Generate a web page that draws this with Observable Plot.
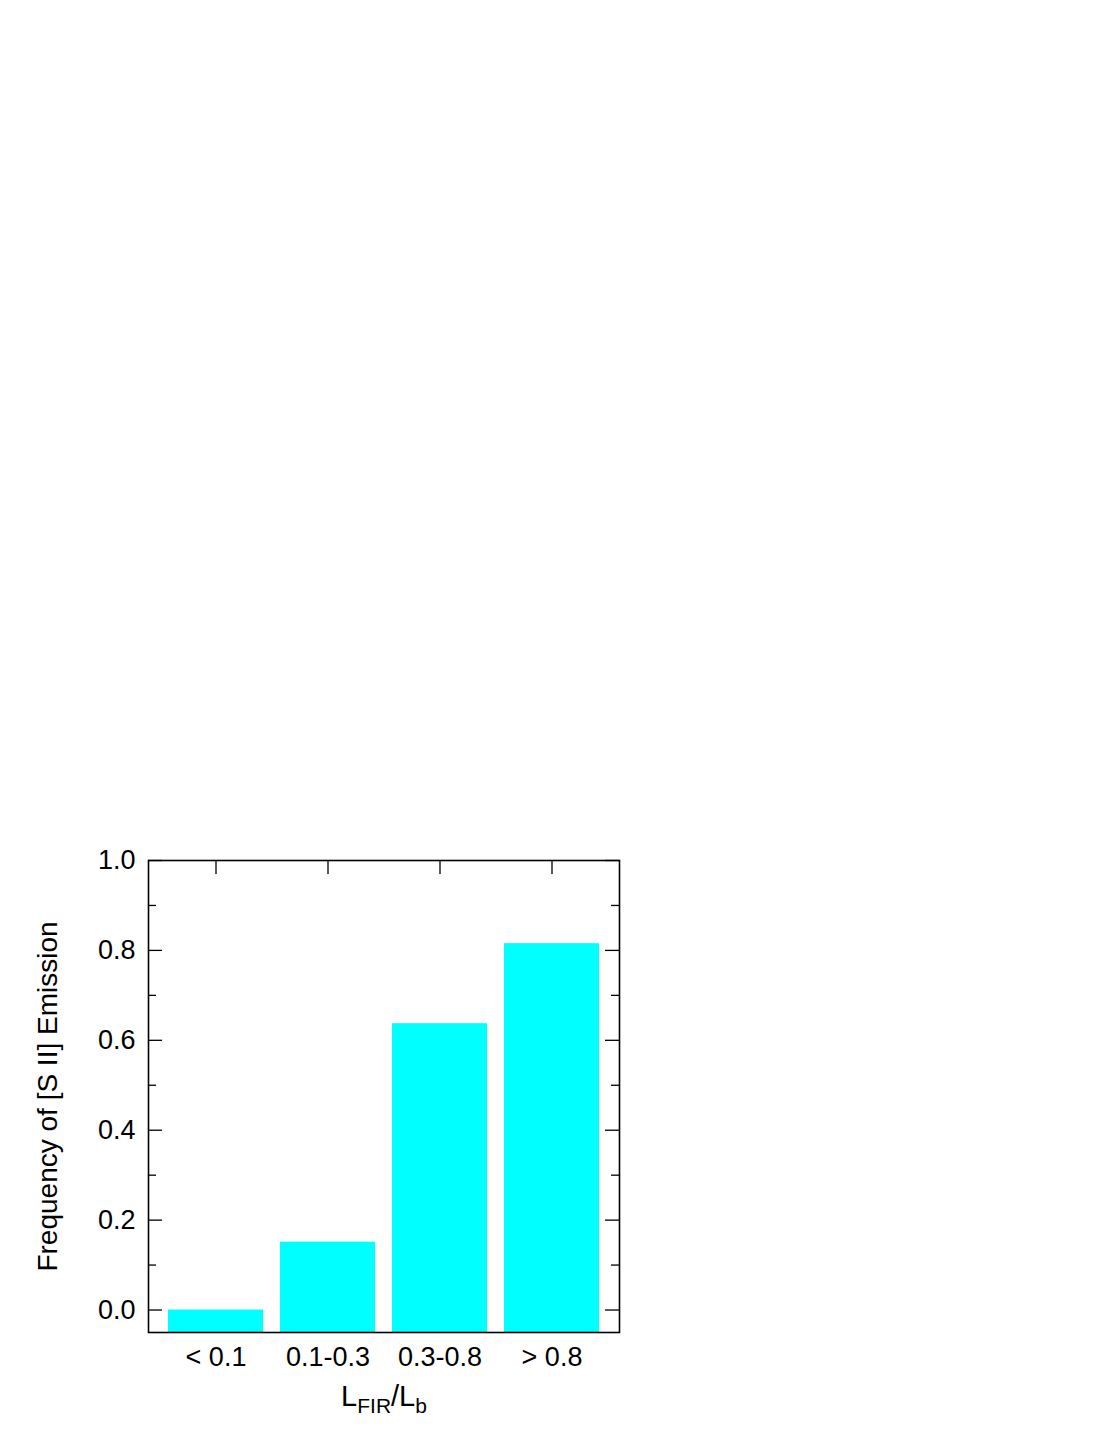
<!DOCTYPE html>
<html><head><meta charset="utf-8">
<script src="https://cdn.jsdelivr.net/npm/d3@7"></script>
<script src="https://cdn.jsdelivr.net/npm/@observablehq/plot@0.6"></script>
<style>body{margin:0;background:#fff}</style>
</head><body><div id="chart"></div><script>
const categories = ["< 0.1", "0.1-0.3", "0.3-0.8", "> 0.8"];
const frequencies = [0.0, 0.151, 0.637, 0.815];
const yMajorTicks = [0, 0.2, 0.4, 0.6, 0.8, 1.0];
const yMinorTicks = [0.1, 0.3, 0.5, 0.7, 0.9];
const yTitle = "Frequency of [S II] Emission";
const xTitleParts = [["L", false], ["FIR", true], ["/L", false], ["b", true]];
const xTitleKey = xTitleParts.map(p => p[0]).join("");

const W = 1107, H = 1433, mL = 148, mR = 488, mT = 860, mB = 101;
const frameW = W - mL - mR, frameH = H - mT - mB;
const yBase = -0.05;
const majorLen = 14, minorLen = 8;
const font = "'Liberation Sans', Arial, Helvetica, sans-serif";

const data = categories.map((c, i) => ({c, v: frequencies[i]}));

const chart = Plot.plot({
  width: W, height: H,
  marginLeft: mL, marginRight: mR, marginTop: mT, marginBottom: mB,
  style: {fontFamily: font, background: "white", color: "black"},
  x: {type: "band", domain: categories, paddingInner: 0.15, paddingOuter: 0.175},
  y: {domain: [yBase, 1]},
  marks: [
    Plot.barY(data, {x: "c", y1: yBase, y2: "v", fill: "#00ffff"}),
    Plot.ruleY(yMajorTicks, {y: d => d, insetRight: frameW - majorLen, stroke: "black", strokeWidth: 1.3}),
    Plot.ruleY(yMajorTicks, {y: d => d, insetLeft: frameW - majorLen, stroke: "black", strokeWidth: 1.3}),
    Plot.ruleY(yMinorTicks, {y: d => d, insetRight: frameW - minorLen, stroke: "black", strokeWidth: 1.3}),
    Plot.ruleY(yMinorTicks, {y: d => d, insetLeft: frameW - minorLen, stroke: "black", strokeWidth: 1.3}),
    Plot.ruleX(categories, {x: d => d, insetBottom: frameH - majorLen, stroke: "black", strokeWidth: 1.3}),
    Plot.frame({stroke: "black", strokeWidth: 1.6}),
    Plot.axisY({ticks: yMajorTicks, tickFormat: d3.format(".1f"), tickSize: 0, tickPadding: 13, fontSize: 27, label: null}),
    Plot.axisX({tickSize: 0, tickPadding: 14, fontSize: 27, label: null}),
    Plot.text([yTitle], {text: d => d, frameAnchor: "left", textAnchor: "middle", rotate: -90, dx: -100, fontSize: 28}),
    Plot.text([xTitleKey], {text: d => d, frameAnchor: "bottom", dy: 73, fontSize: 29})
  ]
});

document.getElementById("chart").appendChild(chart);

// subscripts in the x title
d3.select(chart).selectAll("text").filter(function() { return this.textContent === xTitleKey; })
  .each(function() {
    const t = d3.select(this);
    t.text(null);
    let shifted = false;
    xTitleParts.forEach(([s, sub]) => {
      const ts = t.append("tspan").text(s);
      if (sub) { ts.attr("font-size", 21).attr("dy", shifted ? 0 : 7); shifted = true; }
      else { if (shifted) ts.attr("dy", -7); shifted = false; }
    });
  });
</script></body></html>
